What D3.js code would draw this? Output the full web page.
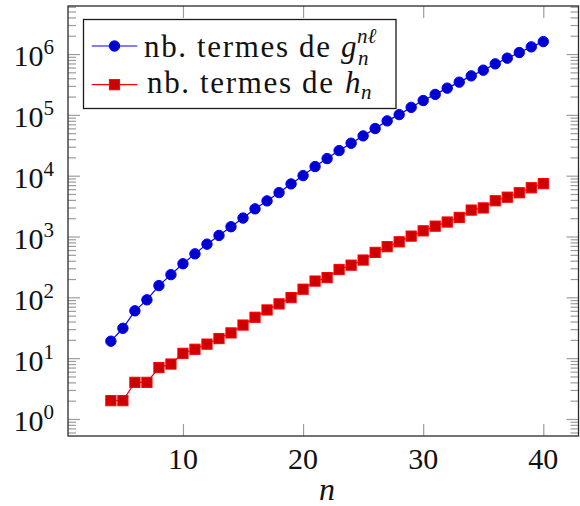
<!DOCTYPE html>
<html>
<head>
<meta charset="utf-8">
<script src="https://cdn.jsdelivr.net/npm/d3@7"></script>
<style>
  html, body { margin: 0; padding: 0; background: #fff; }
  svg { display: block; }
</style>
</head>
<body>
<svg id="chart" width="580" height="506"></svg>
<script>
// n values shared by both series
const nValues = [4,5,6,7,8,9,10,11,12,13,14,15,16,17,18,19,20,21,22,
  23,24,25,26,27,28,29,30,31,32,33,34,35,36,37,38,39,40];

// number of terms of g
const gTerms = [19,31,60,91,156,236,357,519,749,1041,1449,2010,2850,3852,5275,
  7330,10040,14130,19110,25870,34200,45150,59600,79650,101000,133000,172000,
  217000,275000,345000,438000,543000,690000,855000,1059000,1313000,1603000];

// number of terms of h
const hTerms = [2,2,4,4,7,8,12,14,17,21,26,35,47,62,78,99,136,185,211,287,338,
  410,548,680,818,1015,1240,1480,1730,2060,2720,2950,3870,4430,5240,6330,7410];

const xTickValues = [10, 20, 30, 40];
const yExponents = [0, 1, 2, 3, 4, 5, 6];
const legendLabels = ["nb. termes de", "nb. termes de"];

const svg = d3.select("#chart");
svg.append("rect").attr("width", 580).attr("height", 506).attr("fill", "#fff");

const frame = { left: 68, top: 6, right: 578.5, bottom: 436 };

const x = d3.scaleLinear().domain([0.43, 42.93]).range([frame.left, frame.right]);
const y = d3.scaleLog().domain([Math.pow(10, -0.28), Math.pow(10, 6.79)])
  .range([frame.bottom, frame.top]);

const majorY = yExponents.map(e => Math.pow(10, e));
const minorY = [];
for (let e = -1; e <= 6; e++) {
  for (let m = 2; m <= 9; m++) {
    const v = m * Math.pow(10, e);
    if (v > y.domain()[0] && v < y.domain()[1]) minorY.push(v);
  }
}

const tickColor = "#9c9c9c";

function styleTicks(g) {
  g.select(".domain").remove();
  g.attr("font-family", null).attr("font-size", null);
  g.selectAll(".tick line").attr("stroke", tickColor).attr("stroke-width", 1.2);
}

function serif(sel, size) {
  return sel.style("font-family", "'Liberation Serif', 'Times New Roman', serif")
    .style("font-size", size + "px")
    .attr("fill", "#111");
}

// x ticks, bottom and top (pointing inward)
const gxb = svg.append("g").attr("transform", `translate(0,${frame.bottom})`)
  .call(d3.axisBottom(x).tickValues(xTickValues).tickSizeInner(-12).tickSizeOuter(0).tickFormat(""));
styleTicks(gxb);
const gxt = svg.append("g").attr("transform", `translate(0,${frame.top})`)
  .call(d3.axisTop(x).tickValues(xTickValues).tickSizeInner(-12).tickSizeOuter(0).tickFormat(""));
styleTicks(gxt);

// y ticks, left and right, with logarithmic minor ticks
[[d3.axisLeft, frame.left], [d3.axisRight, frame.right]].forEach(([mk, px]) => {
  const gMaj = svg.append("g").attr("transform", `translate(${px},0)`)
    .call(mk(y).tickValues(majorY).tickSizeInner(-12).tickSizeOuter(0).tickFormat(""));
  styleTicks(gMaj);
  const gMin = svg.append("g").attr("transform", `translate(${px},0)`)
    .call(mk(y).tickValues(minorY).tickSizeInner(-8).tickSizeOuter(0).tickFormat(""));
  styleTicks(gMin);
});

// x tick labels
const xlab = svg.append("g");
xTickValues.forEach(v => {
  serif(xlab.append("text"), 30)
    .attr("x", x(v)).attr("y", frame.bottom + 33)
    .attr("text-anchor", "middle")
    .text(String(v));
});

// y tick labels as 10^k
const ylab = svg.append("g");
yExponents.forEach(e => {
  const t = serif(ylab.append("text"), 30)
    .attr("x", 54)
    .attr("y", y(Math.pow(10, e)) + 12.4)
    .attr("text-anchor", "end");
  t.append("tspan").text("10");
  t.append("tspan").attr("dy", -12).style("font-size", "21px").text(String(e));
});

// axis frame
svg.append("rect")
  .attr("x", frame.left).attr("y", frame.top)
  .attr("width", frame.right - frame.left).attr("height", frame.bottom - frame.top)
  .attr("fill", "none").attr("stroke", "#2a2a2a").attr("stroke-width", 1.3);

// x axis label
serif(svg.append("text"), 32)
  .attr("x", 327).attr("y", 500)
  .attr("text-anchor", "middle")
  .style("font-style", "italic")
  .text("n");

const line = d3.line().x((d, i) => x(nValues[i])).y(d => y(d));

// series g: blue line with filled circles
svg.append("path").datum(gTerms)
  .attr("d", line).attr("fill", "none").attr("stroke", "#0000ff").attr("stroke-width", 1.2);
svg.append("g").selectAll("circle").data(gTerms).join("circle")
  .attr("cx", (d, i) => x(nValues[i])).attr("cy", d => y(d))
  .attr("r", 5.2).attr("fill", "#0000cc").attr("stroke", "#0000ff").attr("stroke-width", 1);

// series h: red line with filled squares
svg.append("path").datum(hTerms)
  .attr("d", line).attr("fill", "none").attr("stroke", "#ff0000").attr("stroke-width", 1.2);
const sq = 10.2;
svg.append("g").selectAll("rect").data(hTerms).join("rect")
  .attr("x", (d, i) => x(nValues[i]) - sq / 2).attr("y", d => y(d) - sq / 2)
  .attr("width", sq).attr("height", sq)
  .attr("fill", "#cc0000").attr("stroke", "#ff0000").attr("stroke-width", 1);

// legend
const lg = svg.append("g");
lg.append("rect")
  .attr("x", 83.5).attr("y", 19.5).attr("width", 312.5).attr("height", 89)
  .attr("fill", "#fff").attr("stroke", "#1a1a1a").attr("stroke-width", 1.3);

const rows = [
  { ly: 46, base: 57, tx: 144, color: "#0000ff", fill: "#0000cc", mark: "circle" },
  { ly: 84.7, base: 92.5, tx: 147, color: "#ff0000", fill: "#cc0000", mark: "square" }
];
rows.forEach((r, i) => {
  lg.append("line").attr("x1", 91.7).attr("x2", 137.3).attr("y1", r.ly).attr("y2", r.ly)
    .attr("stroke", r.color).attr("stroke-width", 1.2);
  if (r.mark === "circle") {
    lg.append("circle").attr("cx", 114.5).attr("cy", r.ly).attr("r", 5.2)
      .attr("fill", r.fill).attr("stroke", r.color).attr("stroke-width", 1);
  } else {
    lg.append("rect").attr("x", 114.5 - sq / 2).attr("y", r.ly - sq / 2)
      .attr("width", sq).attr("height", sq)
      .attr("fill", r.fill).attr("stroke", r.color).attr("stroke-width", 1);
  }
  serif(lg.append("text"), 31).attr("x", r.tx).attr("y", r.base)
    .attr("textLength", 186).attr("lengthAdjust", "spacing")
    .text(legendLabels[i]);
});

// math parts of the legend entries
serif(lg.append("text"), 31).attr("x", 341).attr("y", 57)
  .style("font-style", "italic").text("g");
serif(lg.append("text"), 21).attr("x", 357).attr("y", 43)
  .style("font-style", "italic").text("n\u2113");
serif(lg.append("text"), 21).attr("x", 358).attr("y", 65)
  .style("font-style", "italic").text("n");

serif(lg.append("text"), 31).attr("x", 345).attr("y", 92.5)
  .style("font-style", "italic").text("h");
serif(lg.append("text"), 21).attr("x", 361).attr("y", 99)
  .style("font-style", "italic").text("n");
</script>
</body>
</html>
